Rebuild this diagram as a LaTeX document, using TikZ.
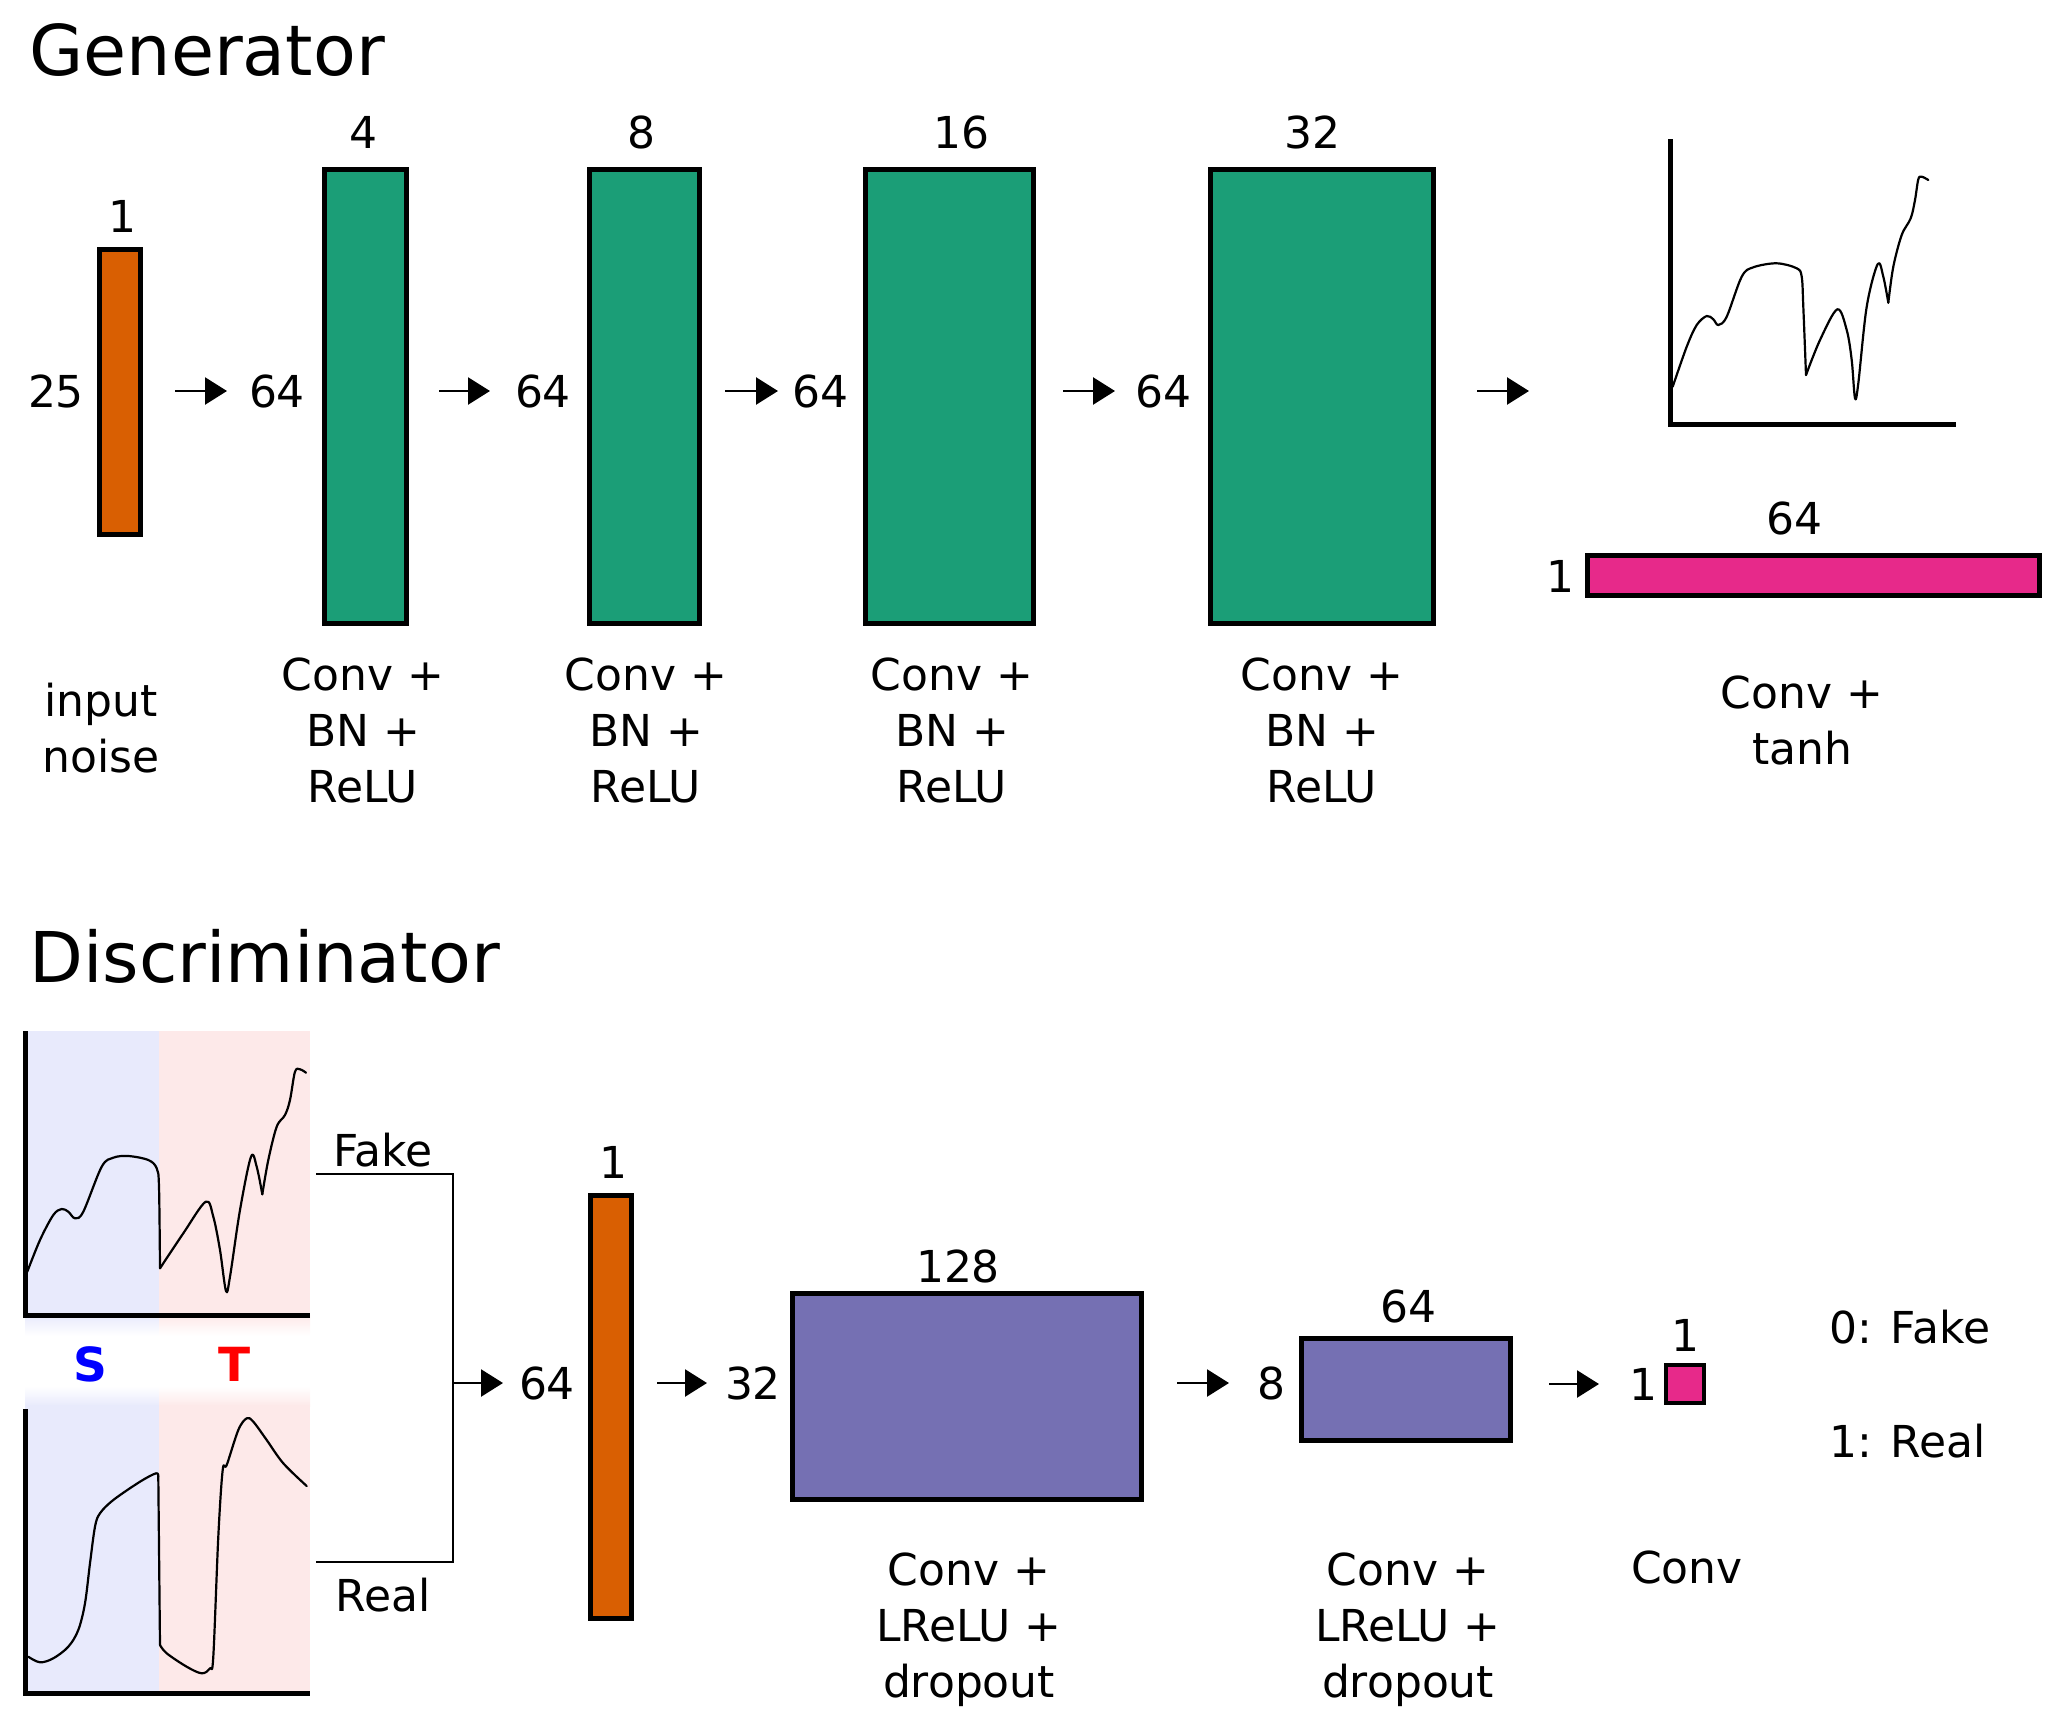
\documentclass[tikz,border=0pt]{standalone}
\usepackage{fontspec}
\setmainfont{DejaVu Sans}
\usetikzlibrary{arrows.meta}
\definecolor{dgreen}{HTML}{1B9E77}
\definecolor{dorange}{HTML}{D95F02}
\definecolor{dpurple}{HTML}{7570B3}
\definecolor{dpink}{HTML}{E7298A}
\definecolor{bgblue}{RGB}{232,234,252}
\definecolor{bgpink}{RGB}{253,233,233}
\tikzset{
  layer/.style={draw=black, line width=2.4pt, inner sep=0pt, outer sep=0pt},
  num/.style={font=\fontsize{22}{28}\selectfont, inner sep=0pt},
  lbl/.style={font=\fontsize{22}{28}\selectfont, align=center, anchor=north, inner sep=0pt},
  ttl/.style={font=\fontsize{35}{40}\selectfont, anchor=base west, inner sep=0pt},
  arr/.style={line width=1.25pt, -{Triangle[length=11pt,width=13.5pt]}},
  brk/.style={line width=1.25pt},
  axisline/.style={line width=2.5pt},
  sig/.style={line width=1.1pt, line join=round, line cap=round},
  domlbl/.style={font=\fontsize{23.5}{28}\selectfont\bfseries, inner sep=0pt},
}
\begin{document}
\begin{tikzpicture}[x=0.5pt,y=-0.5pt]
\useasboundingbox (0,0) rectangle (2067,1729);

% ================= Generator =================
\node[ttl] (gtitle) at (29,75) {Generator};

\node[layer, fill=dorange, minimum width=20.75pt, minimum height=142.25pt] (gin) at (120,392) {};
\node[num] (gin1) at (122,216) {1};
\node[num] (gin25) at (56,391) {25};

\node[layer, fill=dgreen, minimum width=40.75pt, minimum height=226.75pt] (g1) at (365.5,396.5) {};
\node[layer, fill=dgreen, minimum width=54.75pt, minimum height=226.75pt] (g2) at (644.5,396.5) {};
\node[layer, fill=dgreen, minimum width=83.75pt, minimum height=226.75pt] (g3) at (949.5,396.5) {};
\node[layer, fill=dgreen, minimum width=111.25pt, minimum height=226.75pt] (g4) at (1322,396.5) {};

\node[num] (g1t) at (363,132) {4};
\node[num] (g2t) at (641,132) {8};
\node[num] (g3t) at (961,132) {16};
\node[num] (g4t) at (1312,132) {32};

\node[num] (g1l) at (277,391) {64};
\node[num] (g2l) at (543,391) {64};
\node[num] (g3l) at (820,391) {64};
\node[num] (g4l) at (1163,391) {64};

\coordinate (ga1s) at (175,391); \coordinate (ga1e) at (227,391);
\coordinate (ga2s) at (439,391); \coordinate (ga2e) at (490,391);
\coordinate (ga3s) at (725,391); \coordinate (ga3e) at (778,391);
\coordinate (ga4s) at (1063,391); \coordinate (ga4e) at (1115,391);
\coordinate (ga5s) at (1477,391); \coordinate (ga5e) at (1529,391);
\draw[arr] (ga1s) -- (ga1e);
\draw[arr] (ga2s) -- (ga2e);
\draw[arr] (ga3s) -- (ga3e);
\draw[arr] (ga4s) -- (ga4e);
\draw[arr] (ga5s) -- (ga5e);

% output signal
\draw[axisline] (1670,139) -- (1670,424) -- (1956,424);
\draw[sig] plot[smooth, tension=0.55] coordinates {(1672.7,386.7) (1686.7,346.7) (1696.7,325) (1706.7,316) (1713.3,319.3) (1718.3,325) (1726.7,316.7) (1741.7,276.7) (1753.3,267.3) (1776.7,263.3) (1796.7,268.3) (1801.7,276.7) (1803.3,306.7) (1806,375)};
\draw[sig] plot[smooth, tension=0.55] coordinates {(1806,375) (1820,340) (1837.3,309.3) (1846.7,330) (1851.7,360) (1855,398.3) (1858.3,383.3) (1866.7,306.7) (1877.7,264) (1883.3,276.7) (1888.3,302.7)};
\draw[sig] plot[smooth, tension=0.55] coordinates {(1888.3,302.7) (1893.3,266.7) (1901.7,235) (1910.7,218.3) (1915,200) (1918.3,179.3) (1921.7,176.7) (1928.3,180)};

\node[layer, fill=dpink, minimum width=226.25pt, minimum height=19.75pt] (gout) at (1813.5,575.5) {};
\node[num] (gouttop) at (1794,518) {64};
\node[num] (goutleft) at (1560,576) {1};

\node[lbl] (glin) at (101,683) {input\\noise};
\node[lbl] (gl1) at (363,657) {Conv +\\BN +\\ReLU};
\node[lbl] (gl2) at (646,657) {Conv +\\BN +\\ReLU};
\node[lbl] (gl3) at (952,657) {Conv +\\BN +\\ReLU};
\node[lbl] (gl4) at (1322,657) {Conv +\\BN +\\ReLU};
\node[lbl] (glout) at (1802,675) {Conv +\\tanh};

% ================= Discriminator =================
\node[ttl] (dtitle) at (29,982) {Discriminator};

% backgrounds
\fill[bgblue] (25,1031) rectangle (159,1315);
\fill[bgpink] (159,1031) rectangle (310,1315);
\shade[top color=bgblue, bottom color=white] (25,1315) rectangle (159,1336);
\shade[top color=bgpink, bottom color=white] (159,1315) rectangle (310,1336);
\shade[top color=white, bottom color=bgblue] (25,1386) rectangle (159,1406);
\shade[top color=white, bottom color=bgpink] (159,1386) rectangle (310,1406);
\fill[bgblue] (25,1405) rectangle (159,1693);
\fill[bgpink] (159,1405) rectangle (310,1693);

% top (fake) signal
\draw[sig] plot[smooth, tension=0.55] coordinates {(27.3,1271.7) (40,1240) (53.3,1215) (61.7,1209) (68.3,1211.7) (75,1218.3) (83.3,1211.7) (101.7,1166.7) (113.3,1157.7) (128.3,1156) (148.3,1160) (156.7,1168.3) (159,1186.7) (160,1268.3)};
\draw[sig] plot[smooth, tension=0.55] coordinates {(160,1268.3) (183.3,1233.3) (205.7,1201.7) (213.3,1216.7) (220,1250) (226,1291) (230,1276.7) (240,1210) (251,1156.7) (256.7,1166.7) (262.3,1194.3)};
\draw[sig] plot[smooth, tension=0.55] coordinates {(262.3,1194.3) (268.3,1160) (276.7,1126.7) (285,1115) (290,1100) (295,1071.7) (300,1069.3) (306,1072.7)};
\draw[axisline] (25,1031) -- (25,1315) -- (310,1315);

% bottom (real) signal
\draw[sig] plot[smooth, tension=0.55] coordinates {(28.3,1656.7) (40,1662.3) (53.3,1658.3) (68.3,1646.7) (78.3,1630) (85,1603.3) (90,1563.3) (95,1526.7) (100,1513.3) (113.3,1500) (140,1481.7) (156,1473.3) (158.3,1476.7)};
\draw[sig] (158.3,1476.7) -- (160,1645);
\draw[sig] plot[smooth, tension=0.55] coordinates {(160,1645) (166.7,1653.3) (186.7,1666.7) (201.7,1673.3) (210,1668.3) (213.3,1656.7) (218.3,1536.7) (222.7,1470) (226.7,1465) (238.3,1430) (246.7,1418.3) (253.3,1421.7) (266.7,1440) (283.3,1463.3) (306.7,1486)};
\draw[axisline] (25,1409) -- (25,1693) -- (310,1693);

\node[domlbl, text=blue] (dS) at (90,1364) {S};
\node[domlbl, text=red] (dT) at (235,1364) {T};

% fake / real bracket
\coordinate (fk) at (316,1174);
\coordinate (rl) at (316,1562);
\coordinate (jn) at (453,1383);
\draw[brk] (fk) -| (jn |- rl) -- (rl);
\node[num] (fakelbl) at (383,1150) {Fake};
\node[num] (reallbl) at (383,1595) {Real};

\coordinate (da1e) at (503,1383);
\draw[arr] (jn) -- (da1e);
\node[num] (din64) at (547,1383) {64};

\node[layer, fill=dorange, minimum width=20.25pt, minimum height=211.25pt] (din) at (611,1407) {};
\node[num] (din1) at (613,1162) {1};

\coordinate (da2s) at (657,1383); \coordinate (da2e) at (707,1383);
\draw[arr] (da2s) -- (da2e);
\node[num] (d1l) at (753,1383) {32};

\node[layer, fill=dpurple, minimum width=174.25pt, minimum height=102.75pt] (d1) at (967,1396.5) {};
\node[num] (d1t) at (958,1266) {128};

\coordinate (da3s) at (1177,1383); \coordinate (da3e) at (1229,1383);
\draw[arr] (da3s) -- (da3e);
\node[num] (d2l) at (1271,1383) {8};

\node[layer, fill=dpurple, minimum width=104.25pt, minimum height=50.75pt] (d2) at (1406,1389.5) {};
\node[num] (d2t) at (1408,1306) {64};

\coordinate (da4s) at (1549,1384); \coordinate (da4e) at (1599,1384);
\draw[arr] (da4s) -- (da4e);
\node[num] (d3l) at (1643,1384) {1};

\node[layer, fill=dpink, minimum width=19pt, minimum height=19pt] (d3) at (1685,1384) {};
\node[num] (d3t) at (1685,1335) {1};

\node[num, anchor=west] (leg0) at (1829,1327) {0: Fake};
\node[num, anchor=west] (leg1) at (1829,1441) {1: Real};

\node[lbl] (dl1) at (969,1552) {Conv +\\LReLU +\\dropout};
\node[lbl] (dl2) at (1408,1552) {Conv +\\LReLU +\\dropout};
\node[num] (dl3) at (1687,1567) {Conv};
\end{tikzpicture}
\end{document}
